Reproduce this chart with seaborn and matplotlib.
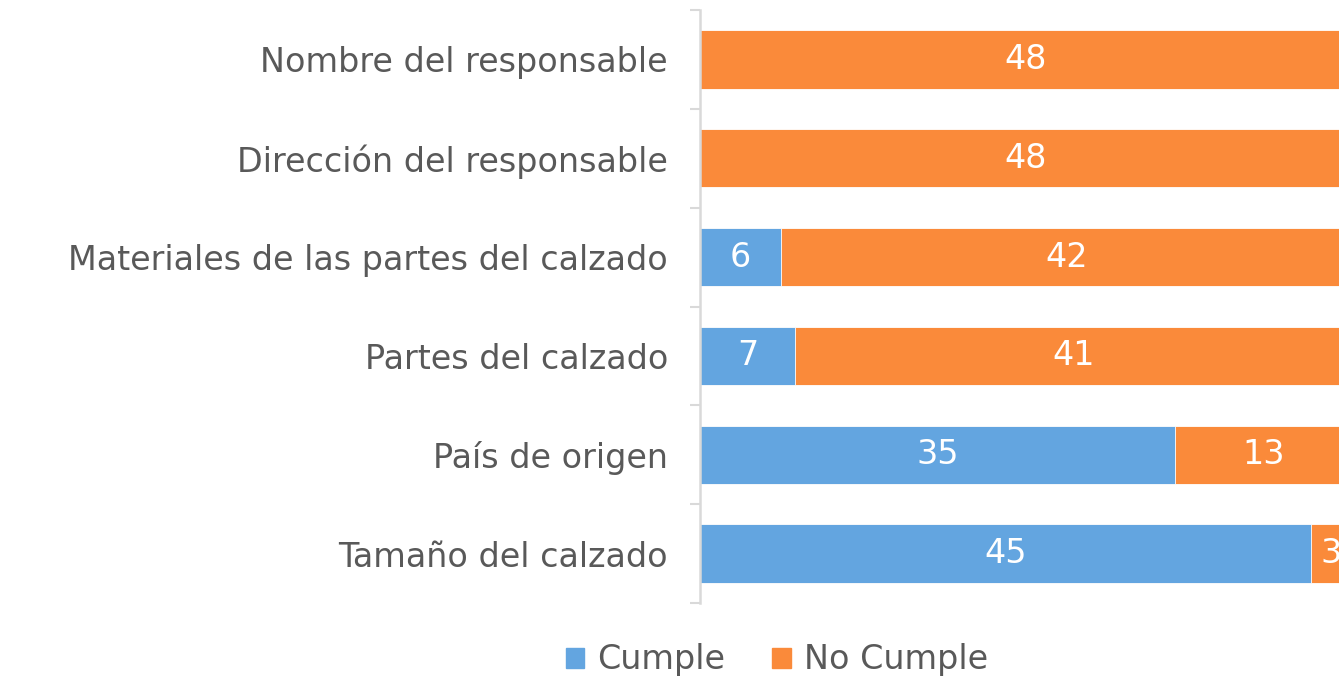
import pandas as pd
import matplotlib
matplotlib.use("Agg")
import matplotlib.pyplot as plt
import seaborn as sns
from matplotlib.patches import Patch

# chart data
categorias = ["Nombre del responsable", "Dirección del responsable",
              "Materiales de las partes del calzado", "Partes del calzado",
              "País de origen", "Tamaño del calzado"]
cumple = [0, 0, 6, 7, 35, 45]
no_cumple = [48, 48, 42, 41, 13, 3]

AZUL = "#63A5E0"
NARANJA = "#FA8A3A"
GRIS_TXT = "#595959"
GRIS_EJE = "#D9D9D9"
FS = 24

sns.set_theme(style="white")
plt.rcParams['font.family'] = ['DejaVu Sans']

df = pd.DataFrame({"cat": categorias, "cumple": cumple, "no_cumple": no_cumple})
df["total"] = df["cumple"] + df["no_cumple"]

fig = plt.figure(figsize=(13.39, 6.76), dpi=100)
ax = fig.add_axes([700 / 1339, 1 - 603 / 676, 1 - 700 / 1339, (603 - 10) / 676])

# stacked bars: draw total in orange, cumple on top in blue
sns.barplot(data=df, y="cat", x="total", color=NARANJA, orient="h", width=0.59,
            saturation=1, edgecolor="white", linewidth=0.6, ax=ax)
sns.barplot(data=df, y="cat", x="cumple", color=AZUL, orient="h", width=0.59,
            saturation=1, edgecolor="white", linewidth=0.6, ax=ax)

for i, row in df.iterrows():
    if row["cumple"] > 0:
        ax.text(row["cumple"] / 2, i, str(row["cumple"]), color="white",
                ha="center", va="center", fontsize=FS)
    if row["no_cumple"] > 0:
        ax.text(row["cumple"] + row["no_cumple"] / 2, i, str(row["no_cumple"]),
                color="white", ha="center", va="center", fontsize=FS, clip_on=True)

ax.set_xlim(0, 47.05)
ax.set_ylim(len(categorias) - 0.5, -0.5)
ax.set_xlabel("")
ax.set_ylabel("")
ax.set_xticks([])

for s in ["top", "right", "bottom"]:
    ax.spines[s].set_visible(False)
ax.spines["left"].set_color(GRIS_EJE)
ax.spines["left"].set_linewidth(1.8)

ax.set_yticks(range(len(categorias)))
ax.set_yticklabels(categorias, fontsize=FS, color=GRIS_TXT)
ax.tick_params(axis="y", which="major", length=0, pad=23)
ax.set_yticks([k - 0.5 for k in range(len(categorias) + 1)], minor=True)
ax.tick_params(axis="y", which="minor", length=7.5, width=1.5, color=GRIS_EJE, left=True)

handles = [Patch(color=AZUL, label="Cumple"), Patch(color=NARANJA, label="No Cumple")]
fig.legend(handles=handles, loc="center", bbox_to_anchor=(777 / 1339, 1 - 660 / 676),
           ncol=2, frameon=False, fontsize=FS, labelcolor=GRIS_TXT,
           handlelength=0.55, handleheight=0.55, handletextpad=0.4, columnspacing=1.4)

fig.savefig("out.png", dpi=100)
